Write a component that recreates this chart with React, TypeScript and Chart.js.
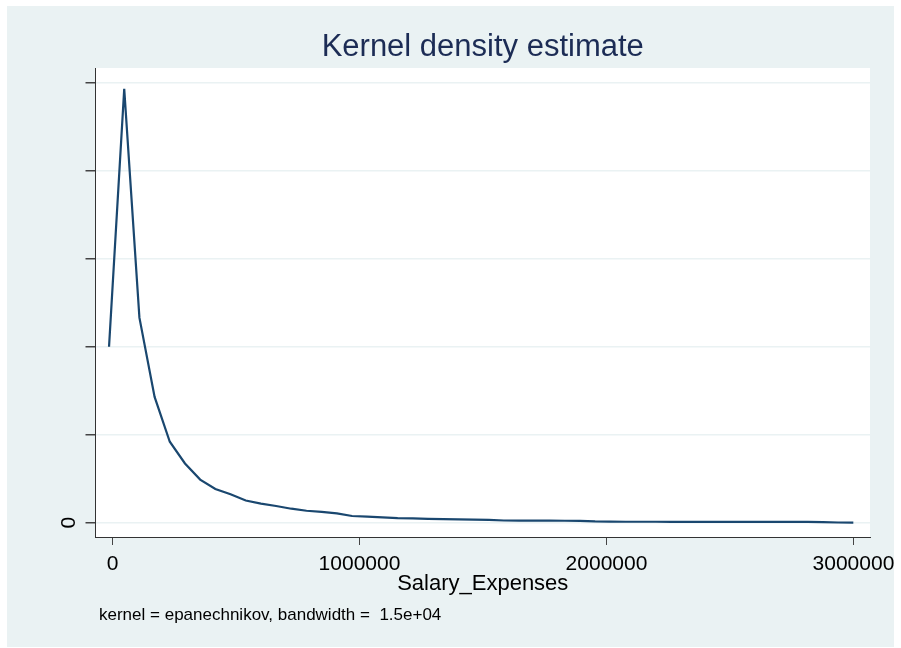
import React, { useEffect, useRef } from 'react';
import { Chart, registerables } from 'chart.js';

Chart.register(...registerables);

// Evaluation points (Salary_Expenses)
const xValues = [
  -14000, 47500, 109000, 170500, 232000, 293500, 355000, 416500, 478000, 539500,
  601000, 662500, 724000, 785500, 847000, 908500, 970000, 1031500, 1093000, 1154500,
  1216000, 1277500, 1339000, 1400500, 1462000, 1523500, 1585000, 1646500, 1708000, 1769500,
  1831000, 1892500, 1954000, 2015500, 2077000, 2138500, 2200000, 2261500, 2323000, 2384500,
  2446000, 2507500, 2569000, 2630500, 2692000, 2753500, 2815000, 2876500, 2938000, 2999500,
];

// Density (in units of 1e-6)
const densityValues = [
  2.0, 4.93, 2.33, 1.43, 0.92, 0.673, 0.49, 0.383, 0.323, 0.252,
  0.216, 0.19, 0.159, 0.136, 0.122, 0.105, 0.076, 0.068, 0.061, 0.053,
  0.05, 0.044, 0.041, 0.038, 0.034, 0.031, 0.025, 0.024, 0.023, 0.023,
  0.022, 0.021, 0.014, 0.012, 0.011, 0.011, 0.011, 0.01, 0.01, 0.01,
  0.01, 0.01, 0.009, 0.009, 0.009, 0.009, 0.009, 0.006, 0.002, 0.001,
];

const xTicks = [0, 1000000, 2000000, 3000000];
const yTicks = [0, 1, 2, 3, 4, 5];
const yTickLabels = ['0', '', '', '', '', ''];

const titleText = 'Kernel density estimate';
const xTitleText = 'Salary_Expenses';
const noteText = 'kernel = epanechnikov, bandwidth =  1.5e+04';

const FONT = "'Liberation Sans', Arial, Helvetica, sans-serif";

export default function App() {
  const ref = useRef<HTMLCanvasElement>(null);

  useEffect(() => {
    document.body.style.margin = '0';
    const canvas = ref.current;
    if (!canvas) return;

    const bgPlugin = {
      id: 'stataBg',
      beforeDraw(chart: any) {
        const { ctx, chartArea } = chart;
        ctx.save();
        ctx.fillStyle = '#ffffff';
        ctx.fillRect(0, 0, chart.width, chart.height);
        ctx.fillStyle = '#eaf2f3';
        ctx.fillRect(7, 6, 887, 641);
        ctx.fillStyle = '#ffffff';
        ctx.fillRect(chartArea.left, chartArea.top, chartArea.right - chartArea.left, chartArea.bottom - chartArea.top);
        ctx.restore();
      },
      afterDraw(chart: any) {
        const { ctx } = chart;
        ctx.save();
        ctx.font = `17px ${FONT}`;
        ctx.fillStyle = '#000000';
        ctx.textBaseline = 'middle';
        ctx.textAlign = 'left';
        ctx.fillText(noteText, 99, 615);
        ctx.restore();
      },
    };

    const chart = new Chart(canvas, {
      type: 'line',
      data: {
        datasets: [
          {
            data: xValues.map((x, i) => ({ x, y: densityValues[i] })),
            borderColor: '#1a476f',
            borderWidth: 2.2,
            pointRadius: 0,
            tension: 0,
            fill: false,
          },
        ],
      },
      options: {
        responsive: false,
        animation: false,
        devicePixelRatio: 1,
        layout: { padding: { left: 40, right: 31, top: 0, bottom: 51.4 } },
        plugins: {
          legend: { display: false },
          tooltip: { enabled: false },
          title: {
            display: true,
            fullSize: false,
            text: titleText,
            color: '#1c2c55',
            font: { family: FONT, size: 31, weight: 'normal' },
            padding: { top: 29, bottom: 1.8 },
          },
        },
        scales: {
          x: {
            type: 'linear',
            min: -68800,
            max: 3067000,
            afterBuildTicks: (s: any) => {
              s.ticks = xTicks.map((v) => ({ value: v }));
            },
            afterFit: (s: any) => {
              s.height = 59.6;
              s.paddingLeft = 0;
              s.paddingRight = 0;
            },
            ticks: {
              autoSkip: false,
              maxRotation: 0,
              minRotation: 0,
              padding: 7,
              color: '#000000',
              font: { family: FONT, size: 21 },
              callback: (v: any) => String(v),
            },
            grid: {
              drawOnChartArea: false,
              drawTicks: true,
              tickLength: 8,
              tickColor: '#444444',
              tickWidth: 1,
            },
            border: { display: true, color: '#333333', width: 1 },
            title: {
              display: true,
              text: xTitleText,
              color: '#000000',
              font: { family: FONT, size: 22 },
              padding: { top: 0, bottom: -1 },
            },
          },
          y: {
            type: 'linear',
            min: -0.1625,
            max: 5.167,
            afterBuildTicks: (s: any) => {
              s.ticks = yTicks.map((v) => ({ value: v }));
            },
            afterFit: (s: any) => {
              s.width = 55.5;
              s.paddingTop = 0;
              s.paddingBottom = 0;
            },
            ticks: {
              autoSkip: false,
              minRotation: 90,
              maxRotation: 90,
              crossAlign: 'center',
              padding: 10,
              color: '#000000',
              font: { family: FONT, size: 21 },
              callback: (v: any) => {
                const i = yTicks.indexOf(Number(v));
                return i >= 0 ? yTickLabels[i] : '';
              },
            },
            grid: {
              drawOnChartArea: true,
              color: '#eaf2f3',
              lineWidth: 1.5,
              drawTicks: true,
              tickLength: 10,
              tickColor: '#444444',
              tickWidth: 1.5,
            },
            border: { display: true, color: '#333333', width: 1 },
          },
        },
      } as any,
      plugins: [bgPlugin],
    });

    return () => chart.destroy();
  }, []);

  return (
    <div style={{ width: 901, height: 648 }}>
      <canvas ref={ref} width={901} height={648} style={{ display: 'block' }} />
    </div>
  );
}
